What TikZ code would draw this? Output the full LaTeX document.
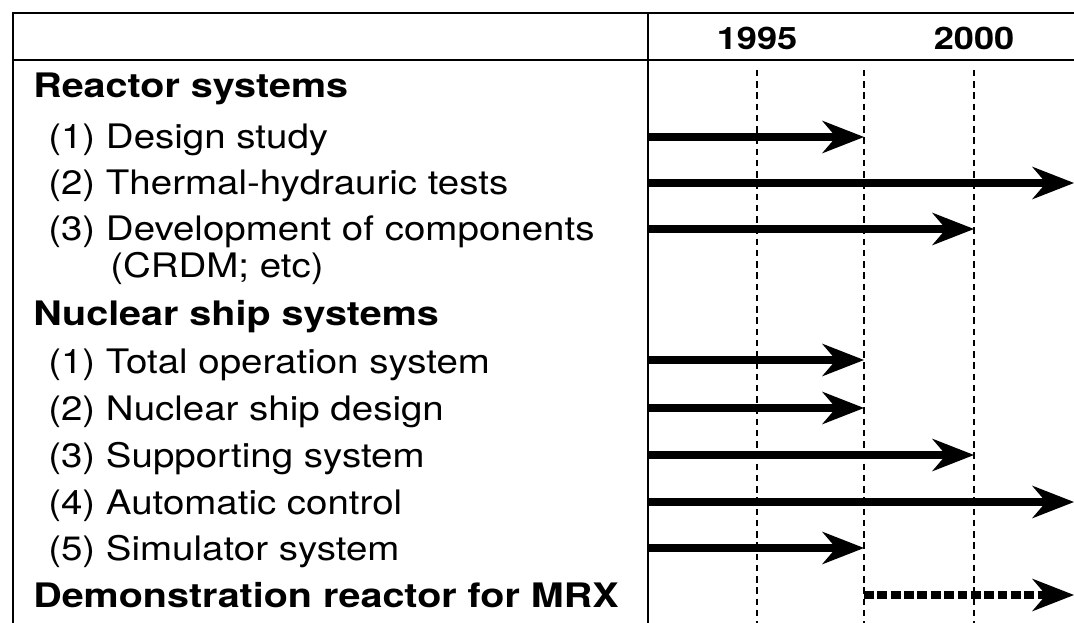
\documentclass[tikz,border=0pt]{standalone}
\usepackage{fontspec}
\setmainfont{TeX Gyre Heros}[UprightFeatures={FakeStretch=1.14}, BoldFeatures={FakeStretch=1.17}]
\usetikzlibrary{arrows.meta}

\tikzset{
  border/.style={line width=2pt},
  yearline/.style={line width=2pt, dash pattern=on 4.5pt off 3.5pt},
  task/.style={line width=5.5pt, -{Stealth[length=1.05cm, width=0.82cm, inset=0.35cm, line width=1pt]}},
  plan/.style={task, dash pattern=on 7pt off 2.5pt},
  lbl/.style={anchor=base west, inner sep=0pt, font=\fontsize{24}{28}\selectfont},
  head/.style={lbl, font=\fontsize{24}{28}\selectfont\bfseries},
  year/.style={anchor=base, inner sep=0pt, font=\fontsize{22}{26}\selectfont\bfseries}
}

\begin{document}
\begin{tikzpicture}[x=0.025cm,y=-0.025cm]
\useasboundingbox (0,0) rectangle (1074,623);

\coordinate (corner) at (13,13);
\coordinate (div) at (648,13);
\coordinate (tend) at (1074,13);
\coordinate (bot) at (0,623);
\coordinate (t95) at (757,70);
\coordinate (t97) at (864,70);
\coordinate (t00) at (974,70);

\draw[border] (corner |- bot) -- (corner) -- (tend);
\draw[border] (13,60) -- (1074,60);
\draw[border] (div) -- (div |- bot);
\foreach \t in {t95,t97,t00}
  \draw[yearline] (\t) -- (\t |- bot);

\node[year] (y95) at (757,50) {1995};
\node[year] (y00) at (974,50) {2000};

\node[head] (reac) at (33,98) {Reactor systems};
\node[lbl] (r1) at (48,149) {(1) Design study};
\node[lbl] (r2) at (48,195) {(2) Thermal-hydrauric tests};
\node[lbl] (r3) at (48,241) {(3) Development of components};
\node[lbl] (r3b) at (110,278) {(CRDM; etc)};
\node[head] (ship) at (33,326) {Nuclear ship systems};
\node[lbl] (s1) at (48,373) {(1) Total operation system};
\node[lbl] (s2) at (48,420) {(2) Nuclear ship design};
\node[lbl] (s3) at (48,467) {(3) Supporting system};
\node[lbl] (s4) at (48,514) {(4) Automatic control};
\node[lbl] (s5) at (48,560) {(5) Simulator system};
\node[head] (demo) at (33,607) {Demonstration reactor for MRX};

\foreach \row/\y/\t in {a1/137/t97, a2/183/tend, a3/229/t00, b1/360/t97,
    b2/408/t97, b3/455/t00, b4/502/tend, b5/548/t97} {
  \coordinate (\row) at (0,\y);
  \draw[task] (div |- \row) -- (\t |- \row);
}
\coordinate (d1) at (0,595);
\draw[plan] (t97 |- d1) -- (tend |- d1);
\end{tikzpicture}
\end{document}
